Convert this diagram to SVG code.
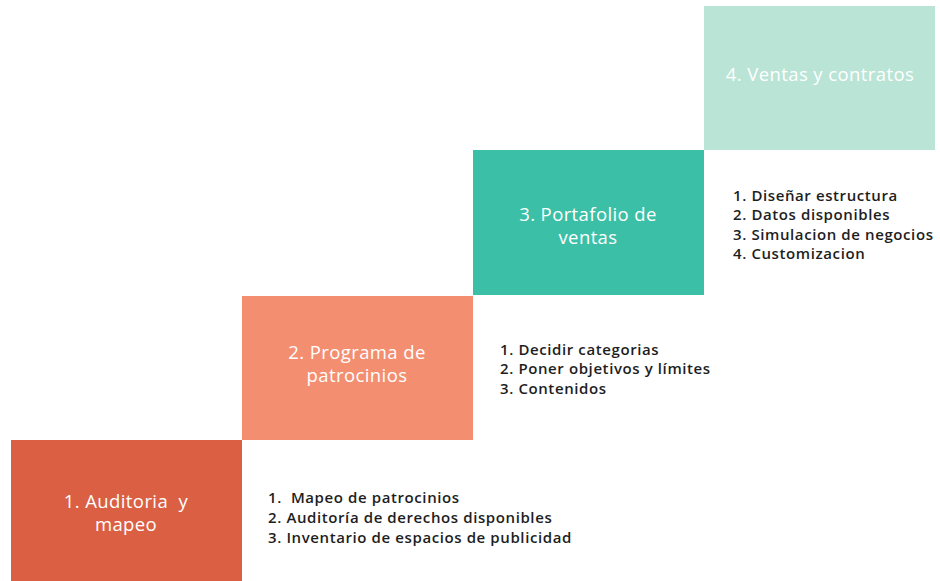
<svg xmlns="http://www.w3.org/2000/svg" width="940" height="581" viewBox="0 0 940 581">
<style>
.t{font-family:"Open Sans","DejaVu Sans",sans-serif;font-size:18.5px;letter-spacing:0.4px;fill:#ffffff;text-anchor:middle;white-space:pre}
.l{font-family:"Open Sans","DejaVu Sans",sans-serif;font-size:15px;font-weight:600;letter-spacing:0.6px;fill:#1e1e1e;white-space:pre}
</style>
<rect width="940" height="581" fill="#ffffff"/>
<g id="node1">
<rect x="11" y="440" width="231" height="141" fill="#DA5F43"/>
<text class="t" x="126" y="508">1. Auditoria  y</text>
<text class="t" x="126" y="531">mapeo</text>
</g>
<g id="node2">
<rect x="242" y="296" width="231" height="144" fill="#F48E71"/>
<text class="t" x="357" y="359">2. Programa de</text>
<text class="t" x="357" y="382">patrocinios</text>
</g>
<g id="node3">
<rect x="473" y="150" width="231" height="145" fill="#3BBFA6"/>
<text class="t" x="588" y="221">3. Portafolio de</text>
<text class="t" x="588" y="244">ventas</text>
</g>
<g id="node4">
<rect x="704" y="6" width="231" height="144" fill="#B9E4D6"/>
<text class="t" x="820" y="81">4. Ventas y contratos</text>
</g>
<g id="list1">
<text class="l" x="268" y="503">1.  Mapeo de patrocinios</text>
<text class="l" x="268" y="523">2. Auditoría de derechos disponibles</text>
<text class="l" x="268" y="543">3. Inventario de espacios de publicidad</text>
</g>
<g id="list2">
<text class="l" x="500" y="355">1. Decidir categorias</text>
<text class="l" x="500" y="374">2. Poner objetivos y límites</text>
<text class="l" x="500" y="394">3. Contenidos</text>
</g>
<g id="list3">
<text class="l" x="733" y="201">1. Diseñar estructura</text>
<text class="l" x="733" y="220">2. Datos disponibles</text>
<text class="l" x="733" y="240">3. Simulacion de negocios</text>
<text class="l" x="733" y="259">4. Customizacion</text>
</g>
<g id="connectors"></g>
</svg>
